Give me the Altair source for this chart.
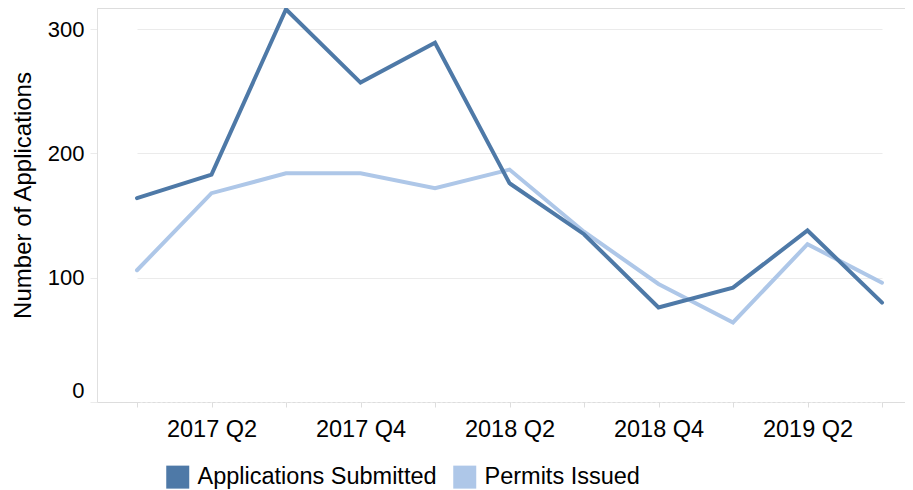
import json
import altair as alt
import pandas as pd

quarters = ["2017 Q1", "2017 Q2", "2017 Q3", "2017 Q4", "2018 Q1", "2018 Q2",
            "2018 Q3", "2018 Q4", "2019 Q1", "2019 Q2", "2019 Q3"]
submitted = [164, 183, 316, 257, 289, 176, 135, 76, 92, 138, 80]
issued = [106, 168, 184, 184, 172, 187, 137, 95, 64, 127, 96]
series_names = ["Applications Submitted", "Permits Issued"]
series_colors = ["#4e79a7", "#aec7e8"]
y_ticks = [0, 100, 200, 300]
x_labels_shown = quarters[1::2]

df = pd.DataFrame({
    "quarter": quarters * 2,
    "value": submitted + issued,
    "series": [series_names[0]] * len(quarters) + [series_names[1]] * len(quarters),
})

label_expr = "indexof(" + json.dumps(x_labels_shown) + ", datum.value) >= 0 ? datum.value : ''"

x_enc = alt.X(
    "quarter:O",
    sort=quarters,
    scale=alt.Scale(range=[40, 785], padding=0),
    axis=alt.Axis(
        title=None, labelExpr=label_expr, labelAngle=0, labelOverlap=False,
        ticks=True, tickSize=5, tickColor="#dddddd", domainColor="#dddddd",
        domainDash=[3, 2], labelFontSize=23.5, labelColor="#000000",
        labelPadding=10, grid=False,
    ),
)
y_enc = alt.Y(
    "value:Q",
    scale=alt.Scale(domain=[0, 317], nice=False, zero=True),
    axis=alt.Axis(
        values=y_ticks, title="Number of Applications", titleFontSize=24,
        titleFontWeight="normal", titleColor="#000000", titlePadding=12, titleY=187,
        labelFontSize=22, labelColor="#000000", labelPadding=6, labelFlush=True,
        tickSize=7, tickColor="#ebebeb", domainColor="#e0e0e0",
        gridColor="#ebebeb", grid=True,
    ),
)
color_scale = alt.Scale(domain=series_names, range=series_colors)
legend_spec = alt.Legend(
    title=None, orient="none", legendX=69, legendY=457, direction="horizontal",
    padding=0, symbolType="square", symbolSize=529, symbolStrokeWidth=0,
    symbolOpacity=1, labelFontSize=23.5, labelColor="#000000", labelOffset=8,
    labelLimit=500, columnPadding=16,
)
color_enc = alt.Color("series:N", scale=color_scale, legend=legend_spec)

base = alt.Chart(df).encode(x=x_enc, y=y_enc, color=color_enc)

legend_layer = base.mark_square(opacity=0, filled=True)
light = base.transform_filter(alt.datum.series == series_names[1]).mark_line(
    strokeWidth=4, strokeCap="round")
dark = base.transform_filter(alt.datum.series == series_names[0]).mark_line(
    strokeWidth=4, strokeCap="round")

chart = alt.layer(legend_layer, light, dark).properties(
    width=808, height=394,
    autosize=alt.AutoSizeParams(type="none"),
    padding={"left": 89, "top": 0, "right": 0, "bottom": 88},
).configure_view(stroke=None).configure(font="Liberation Sans")

chart.save("out.html", embed_options={"renderer": "svg", "actions": False})
